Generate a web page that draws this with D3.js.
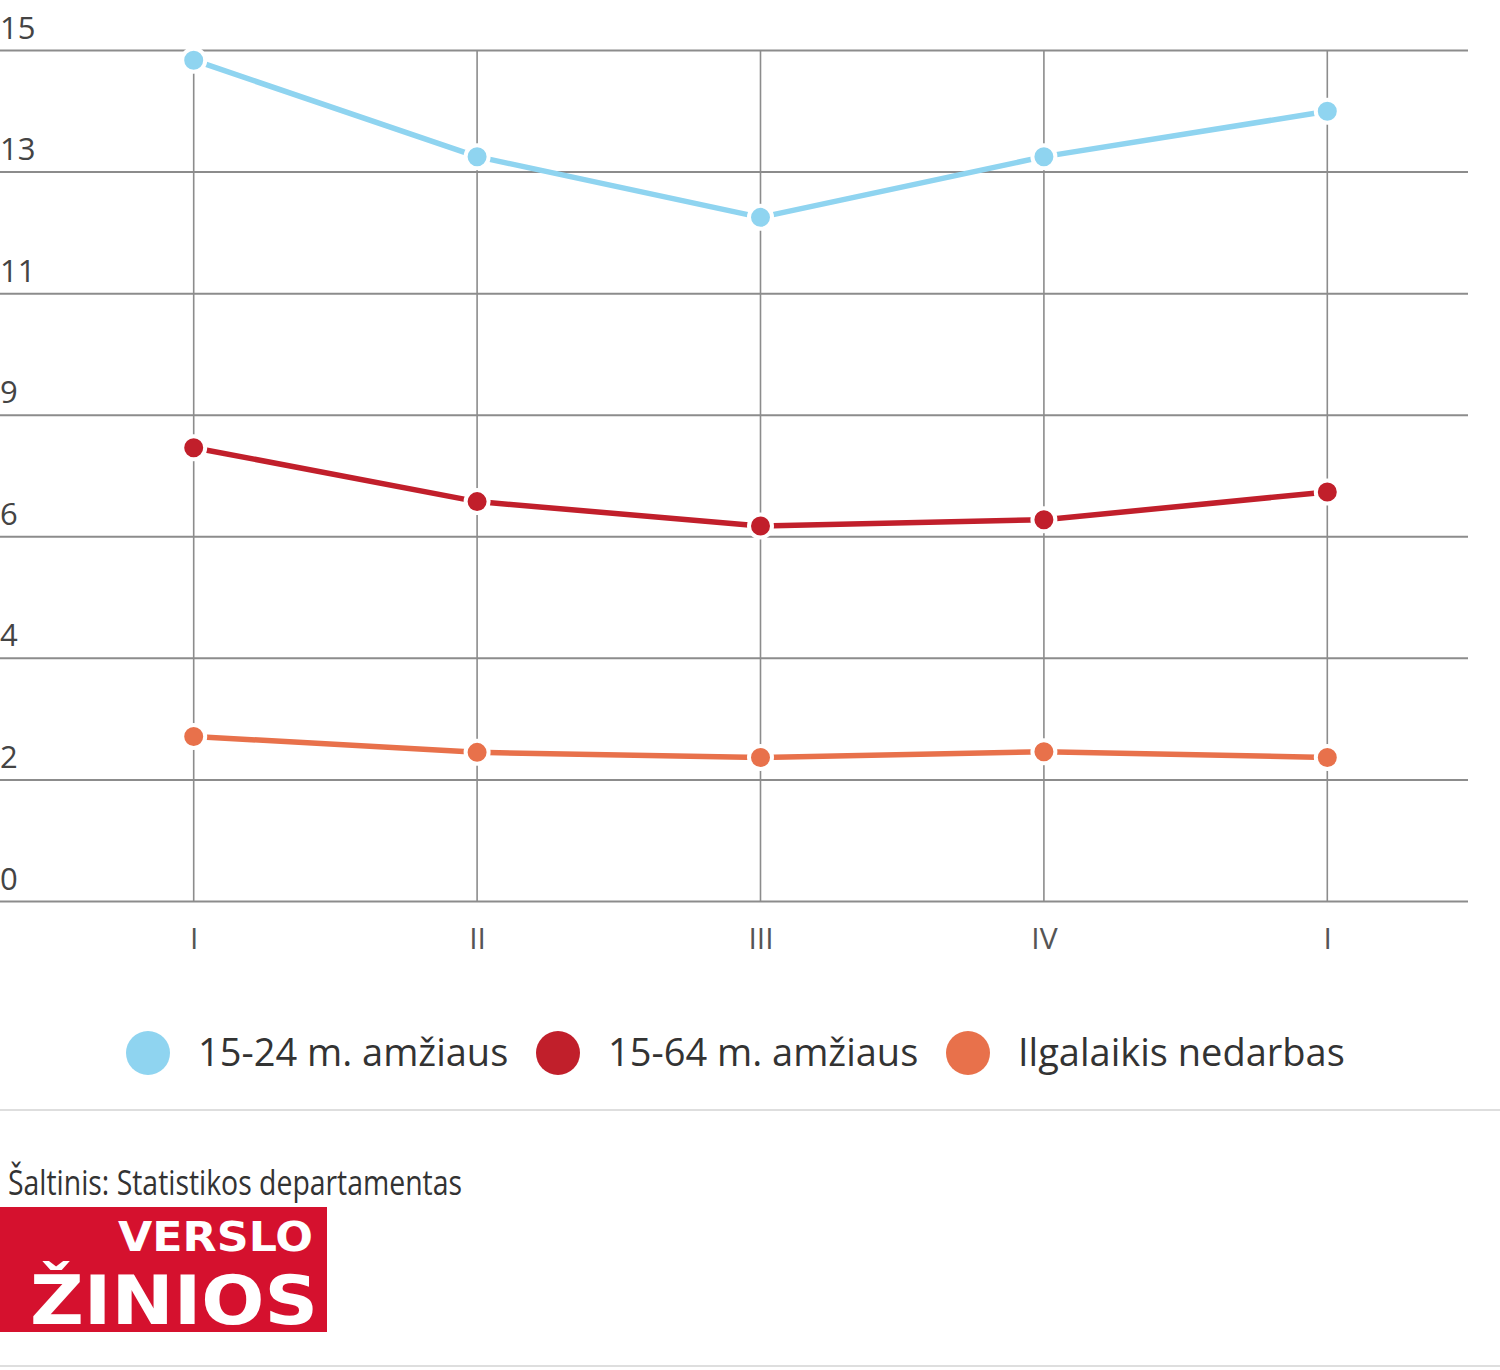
<!DOCTYPE html>
<html>
<head>
<meta charset="utf-8">
<script src="https://cdn.jsdelivr.net/npm/d3@7"></script>
<style>
  html, body { margin: 0; padding: 0; background: #fff; }
  svg { display: block; }
</style>
</head>
<body>
<svg id="chart" width="1500" height="1370"></svg>
<script>
// ---- data ----
const categories = ["I", "II", "III", "IV", "I"];
const seriesNames = ["15-24 m. amžiaus", "15-64 m. amžiaus", "Ilgalaikis nedarbas"];
const youth = [14.82, 13.12, 12.05, 13.12, 13.92];
const total = [7.99, 7.04, 6.61, 6.72, 7.21];
const longTerm = [2.90, 2.62, 2.53, 2.63, 2.53];
const yTickValues = [0, 15/7, 30/7, 45/7, 60/7, 75/7, 90/7, 15];
const sourceText = "Šaltinis: Statistikos departamentas";
const logoTop = "VERSLO";
const logoBottom = "ŽINIOS";
const colors = ["#8fd4f0", "#c11f2b", "#e8714b"];

const series = [youth, total, longTerm].map((v, i) => ({ name: seriesNames[i], values: v, color: colors[i] }));

const svg = d3.select("#chart");

const x = d3.scalePoint().domain(d3.range(categories.length)).range([52, 1469]).padding(0.5);
const y = d3.scaleLinear().domain([0, 15]).range([901, 50]);

const font = "'Open Sans', 'Noto Sans', sans-serif";

// horizontal grid
const yAxis = d3.axisLeft(y).tickValues(yTickValues).tickSize(-1468).tickFormat(d => Math.round(d));
const gy = svg.append("g").call(yAxis);
gy.select(".domain").remove();
gy.selectAll(".tick line").attr("stroke", "#8c8c8c").attr("stroke-width", 2)
  .attr("x1", 0).attr("x2", 1468);
gy.selectAll(".tick text")
  .attr("x", 0).attr("dy", 0).attr("y", -12)
  .attr("text-anchor", "start")
  .attr("font-family", font).attr("font-size", 31).attr("fill", "#444");

// vertical grid + x labels
const xAxis = d3.axisBottom(x).tickSize(0).tickFormat(i => categories[i]);
const gx = svg.append("g").attr("transform", "translate(0,901)").call(xAxis);
gx.select(".domain").remove();
gx.selectAll(".tick text").attr("dy", 0).attr("y", 48)
  .attr("font-family", font).attr("font-size", 30).attr("fill", "#555");
svg.append("g").selectAll("line").data(d3.range(categories.length)).join("line")
  .attr("x1", d => x(d)).attr("x2", d => x(d))
  .attr("y1", y(15)).attr("y2", y(0))
  .attr("stroke", "#8c8c8c").attr("stroke-width", 1.6);

// lines
const line = d3.line().x((d, i) => x(i)).y(d => y(d));
const gs = svg.append("g").selectAll("g").data(series).join("g");
gs.append("path")
  .attr("d", d => line(d.values))
  .attr("fill", "none").attr("stroke", d => d.color).attr("stroke-width", 5.5)
  .attr("stroke-linejoin", "round");
gs.selectAll("circle").data(d => d.values.map(v => ({ v, c: d.color }))).join("circle")
  .attr("cx", (d, i) => x(i)).attr("cy", d => y(d.v)).attr("r", 11.5)
  .attr("fill", d => d.c).attr("stroke", "#fff").attr("stroke-width", 4);

// legend
const legendX = [148, 558, 968];
const lg = svg.append("g").selectAll("g").data(series).join("g")
  .attr("transform", (d, i) => `translate(${legendX[i]},1053)`);
lg.append("circle").attr("r", 22).attr("fill", d => d.color);
lg.append("text").attr("x", 50).attr("y", 13)
  .attr("font-family", font).attr("font-size", 38).attr("fill", "#333")
  .text(d => d.name);

// separators
svg.append("line").attr("x1", 0).attr("x2", 1500).attr("y1", 1110).attr("y2", 1110)
  .attr("stroke", "#dedede").attr("stroke-width", 2);
svg.append("line").attr("x1", 0).attr("x2", 1500).attr("y1", 1366).attr("y2", 1366)
  .attr("stroke", "#dedede").attr("stroke-width", 2);

// source
svg.append("text").attr("x", 8).attr("y", 1195)
  .attr("font-family", "'Open Sans', sans-serif").attr("font-size", 34).attr("fill", "#333")
  .attr("textLength", 454).attr("lengthAdjust", "spacingAndGlyphs")
  .text(sourceText);

// logo
const logo = svg.append("g");
logo.append("rect").attr("x", 0).attr("y", 1207).attr("width", 327).attr("height", 125).attr("fill", "#d5112e");
logo.append("text").attr("x", 118).attr("y", 1251)
  .attr("font-family", "'DejaVu Sans', sans-serif").attr("font-weight", "bold").attr("font-size", 40)
  .attr("fill", "#fff").attr("textLength", 195).attr("lengthAdjust", "spacingAndGlyphs")
  .text(logoTop);
logo.append("text").attr("x", 30).attr("y", 1324)
  .attr("font-family", "'DejaVu Sans', sans-serif").attr("font-weight", "bold").attr("font-size", 68)
  .attr("fill", "#fff").attr("textLength", 288).attr("lengthAdjust", "spacingAndGlyphs")
  .text(logoBottom);
</script>
</body>
</html>
